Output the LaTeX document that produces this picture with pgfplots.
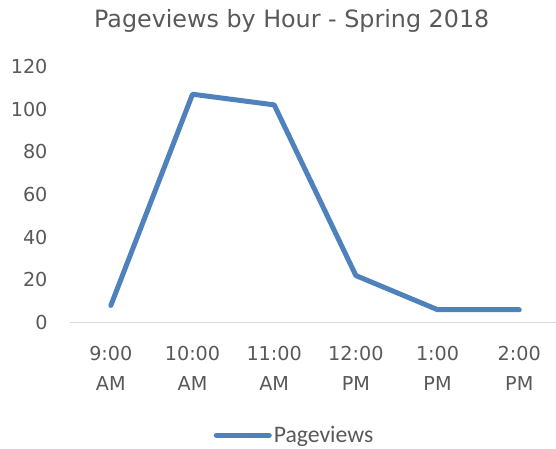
\documentclass[border=0pt]{standalone}
\usepackage{fontspec}
\setmainfont{DejaVu Sans}
\newfontfamily\legfont{Carlito}
\usepackage{pgfplots}
\pgfplotsset{compat=1.18}
\definecolor{lineblue}{RGB}{79,129,189}
\definecolor{txtgray}{RGB}{89,89,89}
\definecolor{axgray}{RGB}{217,217,217}
\begin{document}
\begin{tikzpicture}[x=1pt,y=1pt]
\path[use as bounding box] (0,0) rectangle (556,449);
\node[text=txtgray,font=\fontsize{23.8}{26}\selectfont] at (291.7,428) {Pageviews by Hour - Spring 2018};
\begin{axis}[
  at={(70pt,126.5pt)}, anchor=south west,
  scale only axis, width=486pt, height=256pt,
  xmin=-0.5, xmax=5.45, ymin=0, ymax=120,
  ytick={0,20,...,120},
  xtick={0,1,2,3,4,5},
  xticklabels={9:00\\AM,10:00\\AM,11:00\\AM,12:00\\PM,1:00\\PM,2:00\\PM},
  axis line style={draw=none},
  major tick length=0pt,
  /pgf/number format/assume math mode=true,
  tick label style={text=txtgray, font=\fontsize{19.2}{30}\selectfont},
  xticklabel style={align=center, text depth=0pt, yshift=-20pt},
  yticklabel style={xshift=-19pt},
  clip=false,
  legend style={at={(0.462,-0.44)}, anchor=center, draw=none, fill=none,
    font=\legfont\fontsize{23.7}{26}\selectfont, text=txtgray,
    inner sep=0pt, legend cell align=left},
  legend image code/.code={\draw[#1, line width=5pt, line cap=round] (0pt,0pt) -- (53pt,0pt);},
]
\draw[axgray, line width=1.2pt] (rel axis cs:0,0) -- (rel axis cs:1,0);
\addplot[lineblue, line width=5pt, line cap=round, line join=round] coordinates {
  (0,8) (1,107) (2,102) (3,22) (4,6) (5,6)
};
\addlegendentry{Pageviews}
\end{axis}
\end{tikzpicture}
\end{document}
